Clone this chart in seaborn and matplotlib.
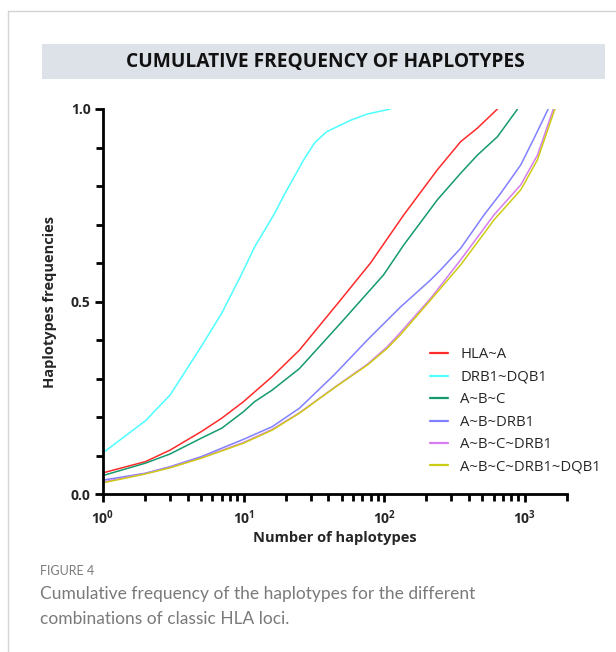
import numpy as np
import pandas as pd
import seaborn as sns
import matplotlib.pyplot as plt
from matplotlib.patches import Rectangle
from matplotlib.lines import Line2D
from matplotlib.ticker import FixedLocator, FixedFormatter, NullFormatter

# curves (number of haplotypes -> cumulative frequency)
hla_a_n = [1, 2, 3, 5, 7, 10, 16, 25, 48, 80, 138, 239, 350, 460, 640]
hla_a_f = [0.055, 0.084, 0.114, 0.162, 0.197, 0.24, 0.305, 0.374, 0.50, 0.60,
           0.725, 0.842, 0.915, 0.95, 1.0]

drb1_dqb1_n = [1, 2, 3, 5, 7, 9.5, 12, 16.4, 20, 26.8, 32, 39, 58, 76, 111]
drb1_dqb1_f = [0.107, 0.19, 0.257, 0.383, 0.47, 0.565, 0.642, 0.725, 0.785, 0.868,
               0.912, 0.941, 0.971, 0.987, 1.0]

abc_n = [1, 2, 3, 5, 7, 10, 12, 16, 25, 48, 99, 138, 239, 350, 460, 640, 890]
abc_f = [0.048, 0.080, 0.104, 0.145, 0.171, 0.214, 0.24, 0.27, 0.326, 0.44,
         0.569, 0.647, 0.764, 0.833, 0.88, 0.928, 1.0]

ab_drb1_n = [1, 2, 3, 5, 7, 10, 16, 25, 44, 76, 131, 214, 252, 350, 514, 675,
             938, 1166, 1470]
ab_drb1_f = [0.036, 0.054, 0.071, 0.097, 0.119, 0.142, 0.175, 0.223, 0.309, 0.40,
             0.486, 0.556, 0.582, 0.638, 0.725, 0.781, 0.855, 0.924, 1.0]

abc_drb1_n = [1, 2, 3, 5, 10, 16, 25, 44, 76, 105, 131, 214, 350, 514, 605, 938,
              1232, 1600]
abc_drb1_f = [0.031, 0.053, 0.069, 0.094, 0.134, 0.168, 0.211, 0.276, 0.337, 0.382,
              0.420, 0.508, 0.608, 0.69, 0.725, 0.803, 0.88, 1.0]

abc_drb1_dqb1_n = [1, 2, 3, 5, 10, 16, 25, 44, 76, 105, 131, 214, 350, 514, 605,
                   938, 1232, 1640]
abc_drb1_dqb1_f = [0.029, 0.052, 0.068, 0.093, 0.132, 0.166, 0.21, 0.275, 0.335,
                   0.378, 0.414, 0.504, 0.595, 0.677, 0.712, 0.79, 0.868, 1.0]

combos = ["HLA~A", "DRB1~DQB1", "A~B~C", "A~B~DRB1", "A~B~C~DRB1",
          "A~B~C~DRB1~DQB1"]
colors = ["#ff2a2a", "#4dffff", "#159a6e", "#8080ff", "#d77cf0", "#cccc14"]
series = [(hla_a_n, hla_a_f), (drb1_dqb1_n, drb1_dqb1_f), (abc_n, abc_f),
          (ab_drb1_n, ab_drb1_f), (abc_drb1_n, abc_drb1_f),
          (abc_drb1_dqb1_n, abc_drb1_dqb1_f)]

rows = []
for name, (ns, fs) in zip(combos, series):
    for n, f in zip(ns, fs):
        rows.append({"n": n, "freq": f, "combo": name})
df = pd.DataFrame(rows)

sns.set_style("white")
plt.rcParams['font.family'] = ['Open Sans', 'DejaVu Sans']
plt.rcParams['mathtext.fontset'] = 'custom'
plt.rcParams['mathtext.bf'] = 'Open Sans:bold'
plt.rcParams['mathtext.rm'] = 'Open Sans'

fig = plt.figure(figsize=(6.16, 6.52), dpi=100)
ax = fig.add_axes([103 / 616, 1 - 494 / 652, (567 - 103) / 616, (494 - 109) / 652])

palette = dict(zip(combos, colors))
sns.lineplot(data=df, x="n", y="freq", hue="combo", hue_order=combos,
             palette=palette, estimator=None, sort=True, linewidth=1.1,
             legend=False, ax=ax)

ax.set_xscale("log")
ax.set_xlim(1, 2000)
ax.set_ylim(0, 1.0)
ax.margins(0)

ax.xaxis.set_major_locator(FixedLocator([1, 10, 100, 1000]))
ax.xaxis.set_major_formatter(FixedFormatter([r"$\mathbf{10^0}$", r"$\mathbf{10^1}$",
                                             r"$\mathbf{10^2}$", r"$\mathbf{10^3}$"]))
minor_x = [m * 10 ** k for k in range(4) for m in range(2, 10) if m * 10 ** k <= 2000]
ax.xaxis.set_minor_locator(FixedLocator(minor_x))
ax.xaxis.set_minor_formatter(NullFormatter())

ax.yaxis.set_major_locator(FixedLocator([0, 0.5, 1.0]))
ax.yaxis.set_major_formatter(FixedFormatter(["0.0", "0.5", "1.0"]))
ax.yaxis.set_minor_locator(FixedLocator([0.1, 0.2, 0.3, 0.4, 0.6, 0.7, 0.8, 0.9]))

for s in ["top", "right"]:
    ax.spines[s].set_visible(False)
for s in ["left", "bottom"]:
    ax.spines[s].set_linewidth(2)
    ax.spines[s].set_color("black")

ax.tick_params(which="major", direction="out", length=6, width=2, color="black",
               labelsize=10, left=True, bottom=True)
ax.tick_params(which="minor", direction="out", length=5, width=2, color="black",
               left=True, bottom=True)
for lab in ax.get_yticklabels():
    lab.set_fontweight("bold")
ax.tick_params(axis="x", pad=5)
ax.tick_params(axis="y", pad=3)

ax.set_xlabel("Number of haplotypes", fontsize=10.5, fontweight="bold", labelpad=2)
ax.set_ylabel("Haplotypes frequencies", fontsize=10.5, fontweight="bold", labelpad=10)

handles = [Line2D([0], [0], color=c, lw=1.6) for c in colors]
ax.legend(handles, combos, loc="upper left", bbox_to_anchor=(423 / 616, 1 - 340 / 652),
          bbox_transform=fig.transFigure, frameon=False, fontsize=10.7,
          handlelength=1.2, handletextpad=0.8, labelspacing=0.5, borderpad=0)

# banner with the title
fig.patches.append(Rectangle((42 / 616, 1 - 79 / 652), (605 - 42) / 616, 35 / 652,
                             transform=fig.transFigure, facecolor="#dde1e8",
                             edgecolor="none", zorder=0))
fig.text(325 / 616, 1 - 62 / 652, "CUMULATIVE FREQUENCY OF HAPLOTYPES",
         ha="center", va="center", fontsize=13.8, fontweight="bold", color="#111111")

# page frame lines
fig.add_artist(Line2D([8 / 616, 1], [1 - 11 / 652, 1 - 11 / 652],
                      transform=fig.transFigure, color="#d4d4d4", lw=1))
fig.add_artist(Line2D([8 / 616, 8 / 616], [0, 1 - 11 / 652],
                      transform=fig.transFigure, color="#d4d4d4", lw=1))

# caption
fig.text(40 / 616, 1 - 571 / 652, "FIGURE 4", ha="left", va="center",
         fontsize=9, color="#7a7a7a", family=["Lato", "DejaVu Sans"])
fig.text(40 / 616, 1 - 594 / 652, "Cumulative frequency of the haplotypes for the different",
         ha="left", va="center", fontsize=12.5, color="#7a7a7a", family=["Lato", "DejaVu Sans"])
fig.text(40 / 616, 1 - 619 / 652, "combinations of classic HLA loci.",
         ha="left", va="center", fontsize=12.5, color="#7a7a7a", family=["Lato", "DejaVu Sans"])

fig.savefig("out.png", dpi=100)
